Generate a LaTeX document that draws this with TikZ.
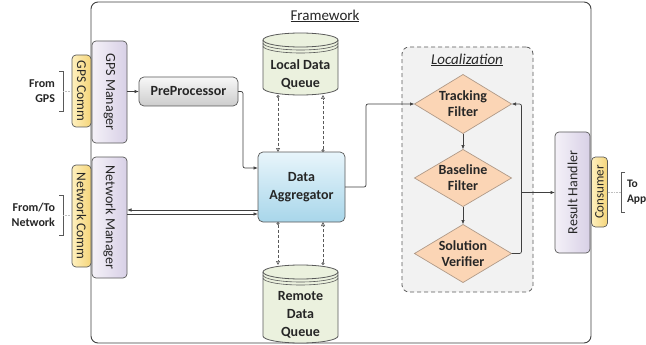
\documentclass[tikz,border=0pt]{standalone}
\usepackage{fontspec}
\setmainfont{Carlito}
\usetikzlibrary{arrows.meta,shapes.geometric}
\definecolor{txt}{HTML}{262626}
\definecolor{edge}{HTML}{595959}
\definecolor{lnc}{HTML}{404040}
\definecolor{lavL}{HTML}{F4F1F8}
\definecolor{lavD}{HTML}{D8D0E6}
\definecolor{yelL}{HTML}{FEF0BE}
\definecolor{yelD}{HTML}{F5D57A}
\definecolor{gryL}{HTML}{F8F8F8}
\definecolor{gryD}{HTML}{CCCCCC}
\definecolor{bluL}{HTML}{E8F5FB}
\definecolor{bluD}{HTML}{A8D6EA}
\definecolor{cylc}{HTML}{EBF1DE}
\definecolor{locf}{HTML}{F2F2F2}
\definecolor{diaf}{HTML}{FBD5B5}
\definecolor{diae}{HTML}{B09A88}
\definecolor{faintc}{HTML}{BFBFBF}
\newcommand{\drawcyl}[4]{%
  \pgfmathsetmacro\cylrad{(#2-#1)/2}%
  \path[fill=cylc,draw=edge,line width=0.8pt] (#1,#3+7) -- (#1,#4-7)
    arc[start angle=180,end angle=360,x radius=\cylrad pt,y radius=7pt]
    -- (#2,#3+7)
    arc[start angle=0,end angle=180,x radius=\cylrad pt,y radius=7pt] -- cycle;
  \draw[edge,line width=0.8pt] (#1,#3+7) arc[start angle=180,end angle=360,x radius=\cylrad pt,y radius=7pt];
  \draw[edge,line width=0.6pt] (#1,#3+10) arc[start angle=180,end angle=360,x radius=\cylrad pt,y radius=7pt];
  \draw[edge,line width=0.6pt] (#1,#3+13) arc[start angle=180,end angle=360,x radius=\cylrad pt,y radius=7pt];
}
\begin{document}
\begin{tikzpicture}[x=1pt,y=-1pt,
  every node/.style={outer sep=0pt,text=txt},
  fwbox/.style={draw=lnc,line width=0.9pt,fill=white,rounded corners=7pt,minimum width=500pt,minimum height=341pt},
  locbox/.style={draw=edge,fill=locf,line width=0.8pt,dash pattern=on 4pt off 3pt,rounded corners=7pt,minimum width=131pt,minimum height=245pt},
  mgr/.style={draw=edge,line width=0.7pt,rounded corners=4pt,left color=lavL,right color=lavD,minimum width=35pt,inner sep=0pt,font=\fontsize{14}{17}\selectfont},
  comm/.style={draw=edge,line width=0.7pt,rounded corners=4pt,left color=yelL,right color=yelD,inner sep=0pt,font=\fontsize{13.5}{16}\selectfont},
  bt/.style={font=\fontsize{14}{18}\selectfont\bfseries,align=center},
  proc/.style={bt,draw=edge,line width=0.7pt,rounded corners=5pt,inner sep=0pt},
  qnode/.style={minimum width=75pt,inner sep=0pt},
  dia/.style={diamond,aspect=1.64,draw=diae,line width=0.7pt,fill=diaf,inner sep=0pt,minimum width=97pt,font=\fontsize{14}{16}\selectfont\bfseries,align=center},
  side/.style={font=\fontsize{12}{15}\selectfont\bfseries,inner xsep=0pt,minimum height=40pt},
  conn/.style={draw=lnc,line width=0.7pt,-{Latex[length=4.5pt,width=3.5pt]}},
  dconn/.style={draw=edge,line width=0.7pt,dash pattern=on 3pt off 2pt,{Circle[open,length=3pt,width=3pt]}-{Triangle[open,length=4pt,width=4pt]}},
  brk/.style={draw=edge,line width=0.8pt},
  faint/.style={draw=faintc,line width=0.6pt,densely dotted}
]
\useasboundingbox (0,0) rectangle (646,345);

% frame
\node[fwbox] (fw) at (341,172.5) {};
\node[font=\fontsize{15}{18}\selectfont] (fwtitle) at (325,16) {\underline{Framework}};

% localization
\node[locbox] (loc) at (467.5,169.5) {};
\node[font=\fontsize{15}{18}\selectfont\itshape] (loctitle) at (467,60) {\underline{Localization}};

% queues
\drawcyl{263}{338}{33}{95}
\drawcyl{263}{338}{265}{343}
\node[qnode,minimum height=62pt] (localq) at (300.5,64) {};
\node[bt] (localqt) at (300.5,74) {Local Data\\Queue};
\node[qnode,minimum height=78pt] (remoteq) at (300.5,304) {};
\node[bt] (remoteqt) at (300.5,315) {Remote\\Data\\Queue};

% managers and comms
\node[comm,minimum width=19pt,minimum height=72pt] (gpscomm) at (81.5,91) {\rotatebox{-90}{GPS Comm}};
\node[mgr,minimum height=102pt] (gpsmgr) at (109.5,92) {\rotatebox{-90}{GPS Manager}};
\node[comm,minimum width=19pt,minimum height=102pt] (netcomm) at (81.5,216) {\rotatebox{-90}{Network Comm}};
\node[mgr,minimum height=121pt] (netmgr) at (109.5,217.5) {\rotatebox{-90}{Network Manager}};
\node[mgr,minimum height=121pt] (result) at (572.5,192.5) {\rotatebox{90}{Result Handler}};
\node[comm,minimum width=16pt,minimum height=70pt,font=\fontsize{13}{16}\selectfont] (consumer) at (599.5,192) {\rotatebox{90}{Consumer}};

% processing
\node[proc,top color=gryL,bottom color=gryD,minimum width=99pt,minimum height=29pt] (pre) at (188.5,91.5) {PreProcessor};
\node[proc,top color=bluL,bottom color=bluD,minimum width=87pt,minimum height=70pt] (agg) at (301.5,187) {Data\\Aggregator};

% diamonds
\node[dia,minimum height=59pt] (track) at (463,104) {Tracking\\Filter};
\node[dia,minimum height=57pt] (base) at (463,178) {Baseline\\Filter};
\node[dia,minimum height=58pt] (sol) at (463,253.5) {Solution\\Verifier};

% outside labels
\node[side,anchor=east,align=right] (fromgps) at (55,91) {From\\GPS};
\node[side,anchor=east,align=right] (fromnet) at (55,215) {From/To\\Network};
\node[side,anchor=west,align=left,font=\fontsize{11.5}{15}\selectfont\bfseries] (toapp) at (627,192) {To\\App};

\draw[brk] ([xshift=4pt]fromgps.north east) -- ++(4,0) |- ([xshift=4pt]fromgps.south east);
\draw[brk] ([xshift=4pt]fromnet.north east) -- ++(4,0) |- ([xshift=4pt]fromnet.south east);
\draw[brk] ([xshift=-2pt]toapp.north west) -- ++(-4,0) |- ([xshift=-2pt]toapp.south west);
\draw[faint] ([xshift=8pt]fromgps.east) -- (gpscomm.west |- fromgps.east);
\draw[faint] ([xshift=8pt]fromnet.east) -- (netcomm.west |- fromnet.east);
\draw[faint] (consumer.east) -- ([xshift=-6pt]toapp.west);

% connectors
\draw[conn] (gpsmgr.east |- pre.west) -- (pre.west);
\draw[conn,rounded corners=2pt] (pre.east) -- ++(5,0) |- ([yshift=19pt]agg.west);
\draw[conn] ([yshift=7.5pt]netmgr.east -| agg.west) -- ([yshift=7.5pt]netmgr.east);
\draw[conn] ([yshift=3.5pt]netmgr.east) -- ([yshift=3.5pt]netmgr.east -| agg.west);

\draw[dconn] ([xshift=-22.5pt]localq.south) -- ([xshift=-22.5pt]localq.south |- agg.north);
\draw[dconn] ([xshift=22.5pt]localq.south |- agg.north) -- ([xshift=22.5pt]localq.south);
\draw[dconn] ([xshift=-22.5pt]remoteq.north |- agg.south) -- ([xshift=-22.5pt]remoteq.north);
\draw[dconn] ([xshift=22.5pt]remoteq.north) -- ([xshift=22.5pt]remoteq.north |- agg.south);

\draw[conn,rounded corners=2pt] (agg.east) -- ++(21,0) |- (track.west);
\draw[conn] (track.south) -- (base.north);
\draw[conn] (base.south) -- (sol.north);
\coordinate (jx) at ([xshift=10pt]sol.east);
\draw[conn,rounded corners=2pt] (sol.east) -- (jx) |- (track.east);
\draw[conn] (jx |- result.west) -- (result.west);
\end{tikzpicture}
\end{document}
